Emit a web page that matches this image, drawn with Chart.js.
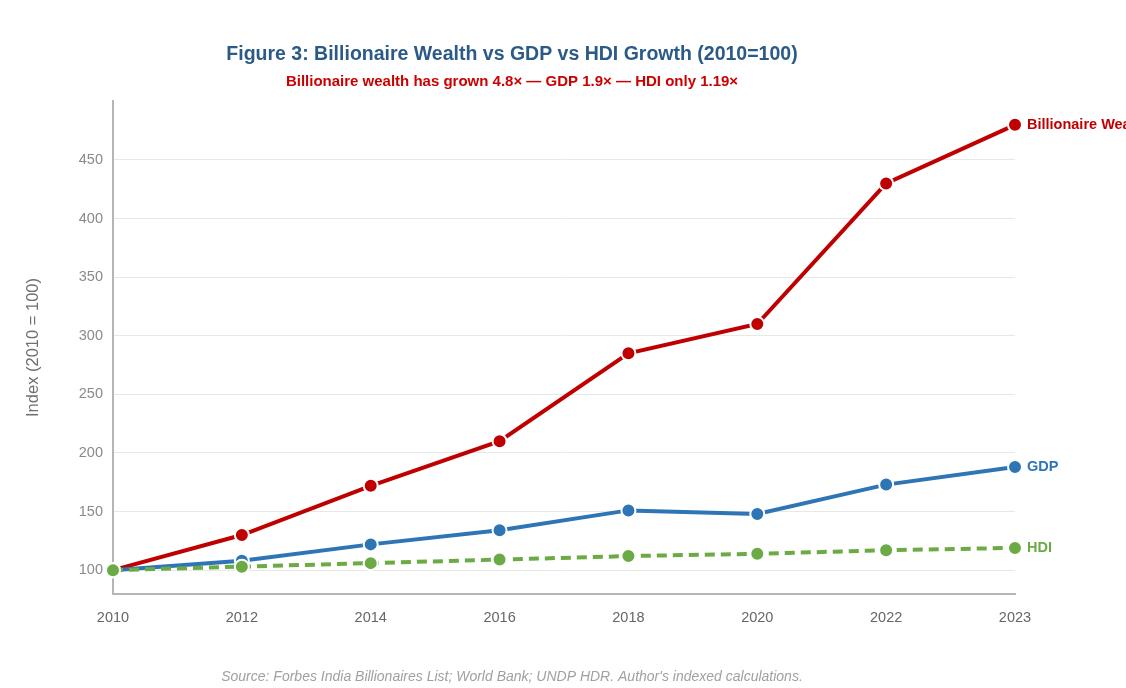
<!DOCTYPE html>
<html>
<head>
<meta charset="utf-8">
<script src="https://cdn.jsdelivr.net/npm/chart.js@4.4.1/dist/chart.umd.min.js"></script>
<style>
  html, body { margin: 0; padding: 0; background: #ffffff; }
  #wrap { position: relative; width: 1126px; height: 688px; }
</style>
</head>
<body>
<div id="wrap"><canvas id="c" width="1126" height="688"></canvas></div>
<script>
const years = ['2010', '2012', '2014', '2016', '2018', '2020', '2022', '2023'];
const billionaireWealth = [100, 130, 172, 210, 285, 310, 430, 480];
const gdp = [100, 108, 122, 134, 151, 148, 173, 188];
const hdi = [100, 103, 106, 109, 112, 114, 117, 119];
const yTicks = [100, 150, 200, 250, 300, 350, 400, 450];
const seriesNames = ['Billionaire Wealth', 'GDP', 'HDI'];

const titleText = 'Figure 3: Billionaire Wealth vs GDP vs HDI Growth (2010=100)';
const subtitleText = 'Billionaire wealth has grown 4.8× — GDP 1.9× — HDI only 1.19×';
const sourceText = "Source: Forbes India Billionaires List; World Bank; UNDP HDR. Author's indexed calculations.";

const RED = '#c00000', BLUE = '#2e75b6', GREEN = '#6aab45';
const FONT = "'Liberation Sans', Arial, sans-serif";

const endLabels = {
  id: 'endLabels',
  afterDatasetsDraw(chart) {
    const ctx = chart.ctx;
    ctx.save();
    ctx.font = 'bold 14.5px ' + FONT;
    ctx.textBaseline = 'middle';
    ctx.textAlign = 'left';
    chart.data.datasets.forEach((ds, i) => {
      const meta = chart.getDatasetMeta(i);
      const pt = meta.data[meta.data.length - 1];
      ctx.fillStyle = ds.borderColor;
      ctx.fillText(ds.label, pt.x + 12, pt.y);
    });
    ctx.restore();
  }
};

const sourceNote = {
  id: 'sourceNote',
  afterDraw(chart) {
    const ctx = chart.ctx;
    ctx.save();
    ctx.font = 'italic 14px ' + FONT;
    ctx.fillStyle = '#a0a0a0';
    ctx.textAlign = 'center';
    ctx.textBaseline = 'middle';
    ctx.fillText(sourceText, 512, 677);
    ctx.restore();
  }
};

function mkDs(label, data, color, dashed) {
  return {
    label, data,
    borderColor: color,
    backgroundColor: color,
    pointBackgroundColor: color,
    pointBorderColor: '#ffffff',
    pointBorderWidth: 2,
    pointRadius: 7,
    pointHoverRadius: 7,
    borderWidth: 4,
    borderDash: dashed ? [10, 6] : [],
    tension: 0,
    fill: false,
    clip: false
  };
}

new Chart(document.getElementById('c'), {
  type: 'line',
  data: {
    labels: years,
    datasets: [
      mkDs(seriesNames[2], hdi, GREEN, true),
      mkDs(seriesNames[1], gdp, BLUE, false),
      mkDs(seriesNames[0], billionaireWealth, RED, false)
    ]
  },
  options: {
    responsive: false,
    animation: false,
    devicePixelRatio: 1,
    layout: { padding: { left: 9, right: 111, top: 32, bottom: 53 } },
    plugins: {
      legend: { display: false },
      tooltip: { enabled: false },
      title: {
        display: true, text: titleText, color: '#2b5a87',
        font: { family: FONT, size: 19.5, weight: 'bold' },
        padding: { top: 11, bottom: 6 }
      },
      subtitle: {
        display: true, text: subtitleText, color: '#cc0000',
        font: { family: FONT, size: 15, weight: 'bold' },
        padding: { top: 0, bottom: 11 }
      }
    },
    scales: {
      x: {
        offset: false,
        grid: { display: false },
        border: { display: true, color: '#b5b5b5', width: 2 },
        ticks: { color: '#666666', font: { family: FONT, size: 14.5 }, padding: 8, maxRotation: 0 }
      },
      y: {
        min: 80, max: 500,
        afterBuildTicks(axis) { axis.ticks = yTicks.map(v => ({ value: v })); },
        grid: { color: '#e8e8e8', lineWidth: 1, drawTicks: false },
        border: { display: true, color: '#b5b5b5', width: 2 },
        ticks: { color: '#8a8a8a', font: { family: FONT, size: 14.5 }, padding: 10 },
        title: { display: true, text: 'Index (2010 = 100)', color: '#707070', font: { family: FONT, size: 16.5 }, padding: { top: 15, bottom: 25 } }
      }
    }
  },
  plugins: [endLabels, sourceNote]
});
</script>
</body>
</html>
